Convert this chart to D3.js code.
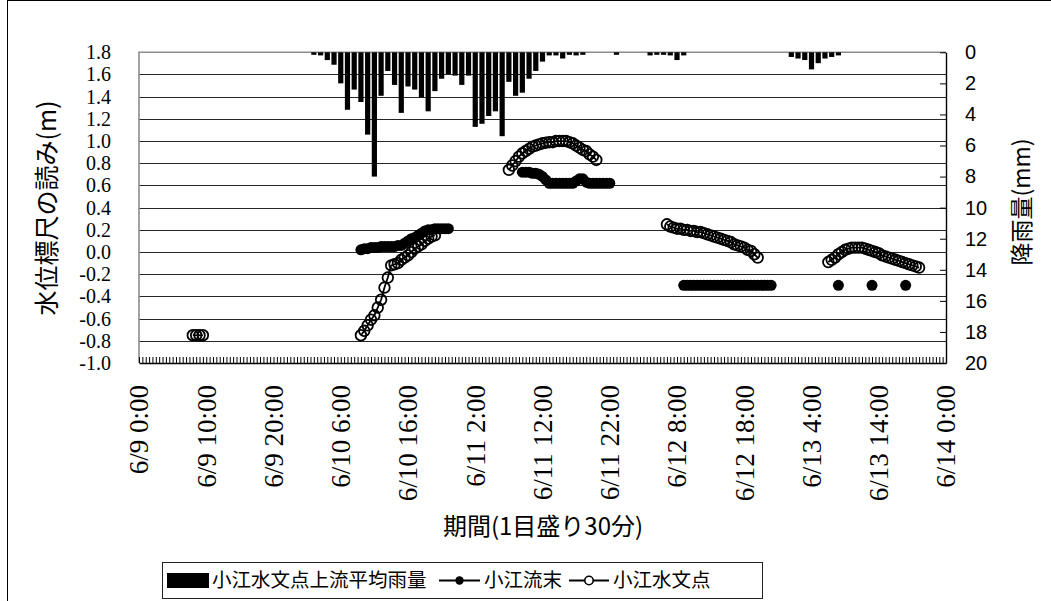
<!DOCTYPE html>
<html>
<head>
<meta charset="utf-8">
<script src="https://cdn.jsdelivr.net/npm/d3@7"></script>
<style>
  body { margin: 0; background: #fff; }
  svg { display: block; }
</style>
</head>
<body>
<svg id="chart" width="1051" height="601"></svg>
<script>
// time labels under the x axis (one every 10 hours)
const xTickLabels = ['6/9 0:00', '6/9 10:00', '6/9 20:00', '6/10 6:00', '6/10 16:00', '6/11 2:00',
  '6/11 12:00', '6/11 22:00', '6/12 8:00', '6/12 18:00', '6/13 4:00', '6/13 14:00', '6/14 0:00']
const levelTicks = [-1.0, -0.8, -0.6, -0.4, -0.2, 0.0, 0.2, 0.4, 0.6, 0.8, 1.0, 1.2, 1.4, 1.6, 1.8]
const rainTicks = [0, 2, 4, 6, 8, 10, 12, 14, 16, 18, 20]

// 小江水文点上流平均雨量 (mm / hour), hourly from rainStart
const rainStart = '6/10 2:00'
const rainMm = [
  0.1, 0.2, 0.5, 0.8, 2.0, 3.7, 2.4, 3.2, 5.3, 8.0,
  2.8, 1.2, 2.1, 3.9, 2.2, 2.4, 2.9, 3.8, 2.5, 1.7,
  1.4, 1.5, 2.1, 1.5, 4.8, 4.6, 4.1, 3.8, 5.4, 1.9,
  2.8, 2.6, 1.7, 1.2, 0.6, 0.2, 0.2, 0.4, 0.1, 0.2,
  0.1, 0, 0, 0, 0, 0.1, 0, 0, 0, 0,
  0.2, 0.1, 0.1, 0.2, 0.5, 0.2,
  0, 0, 0, 0, 0, 0, 0, 0, 0, 0, 0, 0, 0, 0, 0,
  0.3, 0.4, 0.5, 1.1, 0.7, 0.4, 0.3, 0.2
]

// 小江流末: readings every 30 minutes, one list per continuous run
const ryumatsuStart = ['6/10 9:00', '6/11 9:00', '6/12 9:00', '6/13 8:00', '6/13 13:00', '6/13 18:00']
const ryumatsuLevel = [
  [0.02, 0.03, 0.03, 0.04, 0.04, 0.04, 0.05, 0.05, 0.05, 0.05, 0.05, 0.06, 0.06, 0.08,
   0.10, 0.12, 0.13, 0.15, 0.17, 0.19, 0.20, 0.20, 0.21, 0.21, 0.21, 0.21, 0.21],
  [0.72, 0.72, 0.72, 0.71, 0.71, 0.70, 0.68, 0.65, 0.62, 0.62, 0.62, 0.62, 0.62, 0.62,
   0.62, 0.62, 0.64, 0.66, 0.66, 0.63, 0.62, 0.62, 0.62, 0.62, 0.62, 0.62, 0.62],
  [-0.3, -0.3, -0.3, -0.3, -0.3, -0.3, -0.3, -0.3, -0.3, -0.3, -0.3, -0.3, -0.3, -0.3,
   -0.3, -0.3, -0.3, -0.3, -0.3, -0.3, -0.3, -0.3, -0.3, -0.3, -0.3, -0.3, -0.3],
  [-0.3],
  [-0.3],
  [-0.3]
]

// 小江水文点: readings every 30 minutes
const suimonStart = ['6/9 8:00', '6/10 9:00', '6/11 7:00', '6/12 6:30', '6/13 6:30']
const suimonLevel = [
  [-0.75, -0.75, -0.75, -0.75],
  [-0.75, -0.71, -0.66, -0.61, -0.57, -0.50, -0.43, -0.32, -0.23, -0.12, -0.11, -0.10,
   -0.07, -0.05, -0.03, 0.00, 0.03, 0.05, 0.07, 0.10, 0.12, 0.14, 0.15],
  [0.74, 0.78, 0.82, 0.86, 0.89, 0.91, 0.93, 0.95, 0.96, 0.97, 0.98, 0.985, 0.99, 0.99,
   1.00, 1.00, 1.00, 1.00, 0.99, 0.98, 0.96, 0.94, 0.92, 0.91, 0.88, 0.86, 0.83],
  [0.25, 0.23, 0.22, 0.21, 0.21, 0.20, 0.20, 0.19, 0.19, 0.18, 0.18, 0.17, 0.16, 0.15,
   0.14, 0.13, 0.12, 0.11, 0.10, 0.09, 0.07, 0.06, 0.05, 0.04, 0.02, 0.01, -0.02, -0.05],
  [-0.09, -0.07, -0.05, -0.02, 0.00, 0.02, 0.03, 0.04, 0.04, 0.04, 0.04, 0.03, 0.02, 0.01,
   0.00, -0.01, -0.03, -0.04, -0.05, -0.06, -0.07, -0.08, -0.09, -0.10, -0.11, -0.12, -0.13, -0.14]
]

const SERIF = '"Liberation Serif", "DejaVu Serif", serif'
const SANS = '"Liberation Sans", Arial, sans-serif'
const CJK = '"Noto Sans CJK JP", "Noto Sans", sans-serif'

const W = 1051
const H = 601
const plot = { left: 139, right: 946, top: 52.3, bottom: 363 }

const parseTime = s => d3.timeParse('%Y/%m/%d %H:%M')('2019/' + s)

const x = d3.scaleTime()
  .domain([parseTime(xTickLabels[0]), parseTime(xTickLabels[xTickLabels.length - 1])])
  .range([plot.left, plot.right])
const y = d3.scaleLinear().domain([-1.0, 1.8]).range([plot.bottom, plot.top])
const yRain = d3.scaleLinear().domain([0, 20]).range([plot.top, plot.bottom])

function toPoints(starts, levels) {
  return starts.map((s, k) => {
    const t0 = parseTime(s)
    return levels[k].map((v, i) => ({ t: d3.timeMinute.offset(t0, 30 * i), v }))
  })
}

const ryumatsu = toPoints(ryumatsuStart, ryumatsuLevel)
const suimon = toPoints(suimonStart, suimonLevel)
const rain = rainMm.map((v, i) => ({ t: d3.timeHour.offset(parseTime(rainStart), i), v }))

const svg = d3.select('#chart')
svg.append('rect').attr('width', W).attr('height', H).attr('fill', '#fff')

// outer chart border
svg.append('rect')
  .attr('x', 7.5).attr('y', 0.5)
  .attr('width', W + 10).attr('height', H + 10)
  .attr('fill', 'none').attr('stroke', '#000').attr('stroke-width', 1)

// gridlines
svg.append('g')
  .selectAll('line')
  .data(levelTicks.slice(1, -1))
  .join('line')
  .attr('x1', plot.left).attr('x2', plot.right)
  .attr('y1', d => Math.round(y(d)) + 0.5).attr('y2', d => Math.round(y(d)) + 0.5)
  .attr('stroke', '#262626').attr('stroke-width', 1)

// plot frame top/left (grey)
svg.append('path')
  .attr('d', `M${plot.left},${plot.bottom}V${plot.top}H${plot.right}`)
  .attr('fill', 'none').attr('stroke', '#8c8c8c').attr('stroke-width', 1.6)

// rainfall bars hanging from the top
svg.append('g')
  .selectAll('rect')
  .data(rain.filter(d => d.v > 0))
  .join('rect')
  .attr('x', d => x(d.t) - 2.6)
  .attr('width', 5.2)
  .attr('y', yRain(0))
  .attr('height', d => Math.max(2.5, yRain(d.v) - yRain(0)))
  .attr('fill', '#000')

const line = d3.line().x(d => x(d.t)).y(d => y(d.v))

// 小江流末
const gR = svg.append('g')
gR.selectAll('path')
  .data(ryumatsu.filter(s => s.length > 1))
  .join('path')
  .attr('d', line)
  .attr('fill', 'none').attr('stroke', '#000').attr('stroke-width', 2)
gR.selectAll('circle')
  .data(ryumatsu.flat())
  .join('circle')
  .attr('cx', d => x(d.t)).attr('cy', d => y(d.v))
  .attr('r', 5.5)
  .attr('fill', '#000')

// 小江水文点
const gS = svg.append('g')
gS.selectAll('path')
  .data(suimon)
  .join('path')
  .attr('d', line)
  .attr('fill', 'none').attr('stroke', '#000').attr('stroke-width', 1.8)
gS.selectAll('circle')
  .data(suimon.flat())
  .join('circle')
  .attr('cx', d => x(d.t)).attr('cy', d => y(d.v))
  .attr('r', 5.3)
  .attr('fill', 'none').attr('stroke', '#000').attr('stroke-width', 1.8)

// bottom axis: 30-minute ticks pointing inside
const halfHours = d3.timeMinute.every(30).range(x.domain()[0], d3.timeMinute.offset(x.domain()[1], 1))
svg.append('g')
  .attr('transform', `translate(0,${plot.bottom})`)
  .call(d3.axisBottom(x).tickValues(halfHours).tickSize(-6).tickSizeOuter(0).tickFormat(''))
  .call(g => g.selectAll('line').attr('stroke', '#000').attr('stroke-width', 1))
  .call(g => g.select('.domain').attr('stroke', '#000').attr('stroke-width', 1.4))

// rotated time labels
svg.append('g')
  .attr('font-family', SERIF)
  .selectAll('text')
  .data(xTickLabels)
  .join('text')
  .attr('transform', d => `translate(${x(parseTime(d))},385) rotate(-90)`)
  .attr('dy', '0.35em')
  .attr('text-anchor', 'end')
  .attr('font-family', SERIF)
  .attr('font-size', 27)
  .attr('fill', '#000')
  .text(d => d)

// left axis
svg.append('g')
  .attr('transform', `translate(${plot.left},0)`)
  .call(d3.axisLeft(y).tickValues(levelTicks).tickSize(0).tickPadding(28).tickFormat(d => d.toFixed(1)))
  .attr('font-family', SERIF)
  .attr('font-size', 20)
  .call(g => g.select('.domain').remove())
  .call(g => g.selectAll('text').attr('fill', '#000'))

// right axis (rainfall)
svg.append('g')
  .attr('transform', `translate(${plot.right},0)`)
  .call(d3.axisRight(yRain).tickValues(rainTicks).tickSize(-6).tickSizeOuter(0).tickPadding(19))
  .attr('font-family', SANS)
  .attr('font-size', 20)
  .call(g => g.select('.domain').attr('stroke', '#000').attr('stroke-width', 1.4))
  .call(g => g.selectAll('line').attr('stroke', '#000'))
  .call(g => g.selectAll('text').attr('fill', '#000'))

// axis titles
svg.append('text')
  .attr('transform', 'translate(47,208) rotate(-90)')
  .attr('text-anchor', 'middle').attr('dy', '0.35em')
  .attr('font-family', CJK).attr('font-size', 25)
  .text('水位標尺の読み(m)')

svg.append('text')
  .attr('transform', 'translate(1022,202) rotate(-90)')
  .attr('text-anchor', 'middle').attr('dy', '0.35em')
  .attr('font-family', CJK).attr('font-size', 23)
  .text('降雨量(mm)')

svg.append('text')
  .attr('x', 543).attr('y', 527)
  .attr('text-anchor', 'middle').attr('dy', '0.35em')
  .attr('font-family', CJK).attr('font-size', 24)
  .text('期間(1目盛り30分)')

// legend
const legend = svg.append('g')
legend.append('rect')
  .attr('x', 162.5).attr('y', 562.5).attr('width', 600).attr('height', 36)
  .attr('fill', '#fff').attr('stroke', '#222').attr('stroke-width', 1)

const legY = 580.5
legend.append('rect').attr('x', 167).attr('y', 573).attr('width', 42).attr('height', 15).attr('fill', '#000')
legend.append('line').attr('x1', 439).attr('x2', 480).attr('y1', legY).attr('y2', legY)
  .attr('stroke', '#000').attr('stroke-width', 2)
legend.append('circle').attr('cx', 459.5).attr('cy', legY).attr('r', 4.2).attr('fill', '#000')
legend.append('line').attr('x1', 569).attr('x2', 609).attr('y1', legY).attr('y2', legY)
  .attr('stroke', '#000').attr('stroke-width', 1.8)
legend.append('circle').attr('cx', 589).attr('cy', legY).attr('r', 4.2)
  .attr('fill', '#fff').attr('stroke', '#000').attr('stroke-width', 1.6)

legend.selectAll('text.leg')
  .data([
    { label: '小江水文点上流平均雨量', x: 212 },
    { label: '小江流末', x: 484 },
    { label: '小江水文点', x: 613 }
  ])
  .join('text')
  .attr('class', 'leg')
  .attr('x', d => d.x).attr('y', legY).attr('dy', '0.35em')
  .attr('font-family', CJK).attr('font-size', 19.5)
  .text(d => d.label)
</script>
</body>
</html>
